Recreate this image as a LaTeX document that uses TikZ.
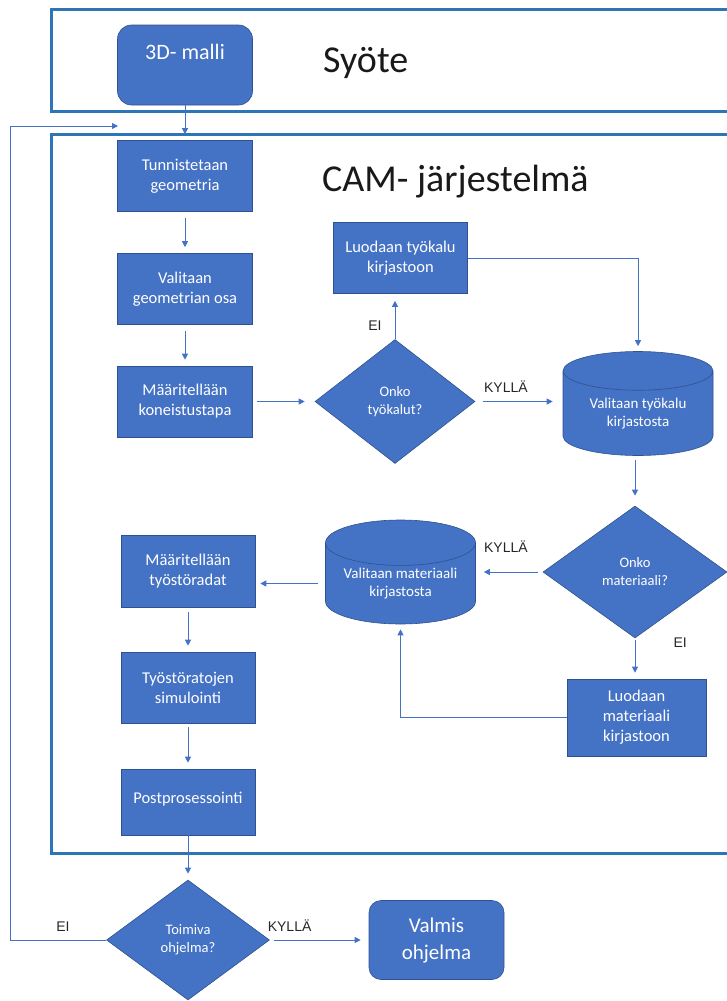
\documentclass[tikz,border=0pt]{standalone}
\usepackage{fontspec}
\setmainfont{Carlito}
\newfontfamily\answerfont{Liberation Sans}
\usetikzlibrary{arrows.meta,shapes.geometric}

\definecolor{office}{HTML}{4472C4}
\definecolor{officeline}{HTML}{2F528F}
\definecolor{framecol}{HTML}{2E75B6}

\begin{document}
\begin{tikzpicture}[
  x=1pt, y=-1pt,
  >={Triangle[length=6pt,width=6pt]},
  frame/.style={draw=framecol, line width=3pt},
  title/.style={font=\fontsize{38}{44}\selectfont, text=black!90, anchor=west, inner sep=0pt},
  stepbox/.style={rectangle, fill=office, draw=officeline, line width=.6pt, text=white, align=center,
    inner sep=0pt, minimum width=135pt, minimum height=71pt, font=\fontsize{16.5}{20}\selectfont},
  endbox/.style={stepbox, rounded corners=12pt, font=\fontsize{21}{27}\selectfont},
  choice/.style={diamond, fill=office, draw=officeline, line width=.6pt, text=white, align=center,
    inner sep=0pt, font=\fontsize{14.5}{18}\selectfont},
  store/.style={cylinder, shape border rotate=90, aspect=.4, fill=office, draw=officeline, line width=.6pt,
    text=white, align=center, inner sep=0pt, minimum width=150pt, minimum height=104pt,
    font=\fontsize{15}{17.5}\selectfont},
  conn/.style={draw=office, line width=1pt},
  answer/.style={font=\answerfont\fontsize{14}{16}\selectfont, text=black!85, inner sep=0pt}
]
\useasboundingbox (0,0) rectangle (727,1001);

% kehykset
\draw[frame] (51,9) rectangle (760,111);
\draw[frame] (51,134) rectangle (760,853);
\node[title] (syote) at (323,63) {Syöte};
\node[title] (cam) at (322,182) {CAM- järjestelmä};

% syöte
\node[endbox, minimum width=135pt, minimum height=80pt, rounded corners=14pt, font=\fontsize{22}{26}\selectfont,
  text height=16pt, text depth=28pt] (malli) at (185,65) {3D- malli};

% vasen sarake
\node[stepbox] (tunnistus) at (185,176) {Tunnistetaan\\geometria};
\node[stepbox] (osa) at (185,289) {Valitaan\\geometrian osa};
\node[stepbox] (tapa) at (185,401.5) {Määritellään\\koneistustapa};

% työkalut
\node[choice, minimum width=160pt, minimum height=124pt] (onkotyo) at (395,401.5) {Onko\\työkalut?};
\node[stepbox, minimum width=134pt, minimum height=71pt] (uusityo) at (400.5,258) {Luodaan työkalu\\kirjastoon};
\node[store, anchor=shape center] (kirjtyo) at (638,403.5) {Valitaan työkalu\\kirjastosta};

% materiaalit
\node[choice, minimum width=184pt, minimum height=132pt] (onkomat) at (635,572) {Onko\\materiaali?};
\node[store, anchor=shape center] (kirjmat) at (400.5,572) {Valitaan materiaali\\kirjastosta};
\node[stepbox, minimum width=139pt, minimum height=77pt] (uusimat) at (636.5,717.5) {Luodaan\\materiaali\\kirjastoon};

% radat
\node[stepbox, minimum width=134pt, minimum height=72pt] (radat) at (188,571) {Määritellään\\työstöradat};
\node[stepbox, minimum width=134pt, minimum height=71pt] (simulointi) at (188,687.5) {Työstöratojen\\simulointi};
\node[stepbox, minimum width=134pt, minimum height=66pt, text depth=9pt] (post) at (188,802) {Postprosessointi};

% tarkistus
\node[choice, minimum width=163pt, minimum height=120pt] (toimiva) at (188,940) {Toimiva\\ohjelma?};
\node[endbox, minimum width=135pt, minimum height=79pt] (valmis) at (436.5,940) {Valmis\\ohjelma};

\coordinate (kulma) at (10,940);
\coordinate (paluu) at (118,126);

\draw[conn, ->, shorten >=6pt] (malli) -- (tunnistus);
\draw[conn, ->, shorten <=6pt, shorten >=6pt] (tunnistus) -- (osa);
\draw[conn, ->, shorten <=6pt, shorten >=6pt] (osa) -- (tapa);
\draw[conn, ->, shorten <=4pt, shorten >=10pt] (tapa) -- (onkotyo);
\draw[conn, ->, shorten >=7pt] (onkotyo.north) -- node[answer, pos=.3, left=13pt] (ei1) {EI} (onkotyo.north |- uusityo.south);
\draw[conn, ->, shorten >=5pt] (uusityo.east) -| (kirjtyo.north);
\draw[conn, ->, shorten <=8pt, shorten >=10pt] (onkotyo.east) -- node[answer, pos=.35, above=9pt] (kylla1) {KYLLÄ} (onkotyo.east -| kirjtyo.west);
\draw[conn, ->, shorten <=4pt, shorten >=10pt] (onkomat.north |- kirjtyo.south) -- (onkomat.north);
\draw[conn, ->, shorten <=5pt, shorten >=8pt] (onkomat.west) -- node[answer, pos=.55, above=19pt] (kylla2) {KYLLÄ} (onkomat.west -| kirjmat.east);
\draw[conn, ->, shorten <=2pt, shorten >=6pt] (onkomat.south) -- node[answer, pos=.1, right=38pt] (ei2) {EI} (onkomat.south |- uusimat.north);
\draw[conn, ->, shorten >=5pt] (uusimat.west) -| (kirjmat.south);
\draw[conn, ->, shorten <=7pt, shorten >=5pt] (kirjmat.west) -- (kirjmat.west -| radat.east);
\draw[conn, ->, shorten <=5pt, shorten >=6pt] (radat) -- (simulointi);
\draw[conn, ->, shorten <=4pt, shorten >=6pt] (simulointi) -- (post);
\draw[conn, ->, shorten >=6pt] (post) -- (toimiva);
\draw[conn, ->, shorten <=4pt, shorten >=8pt] (toimiva) -- node[answer, pos=.2, above=8pt] (kylla3) {KYLLÄ} (valmis);
\draw[conn, ->] (toimiva.west) -- node[answer, pos=.45, above=8pt] (ei3) {EI} (kulma) |- (paluu);
\end{tikzpicture}
\end{document}
